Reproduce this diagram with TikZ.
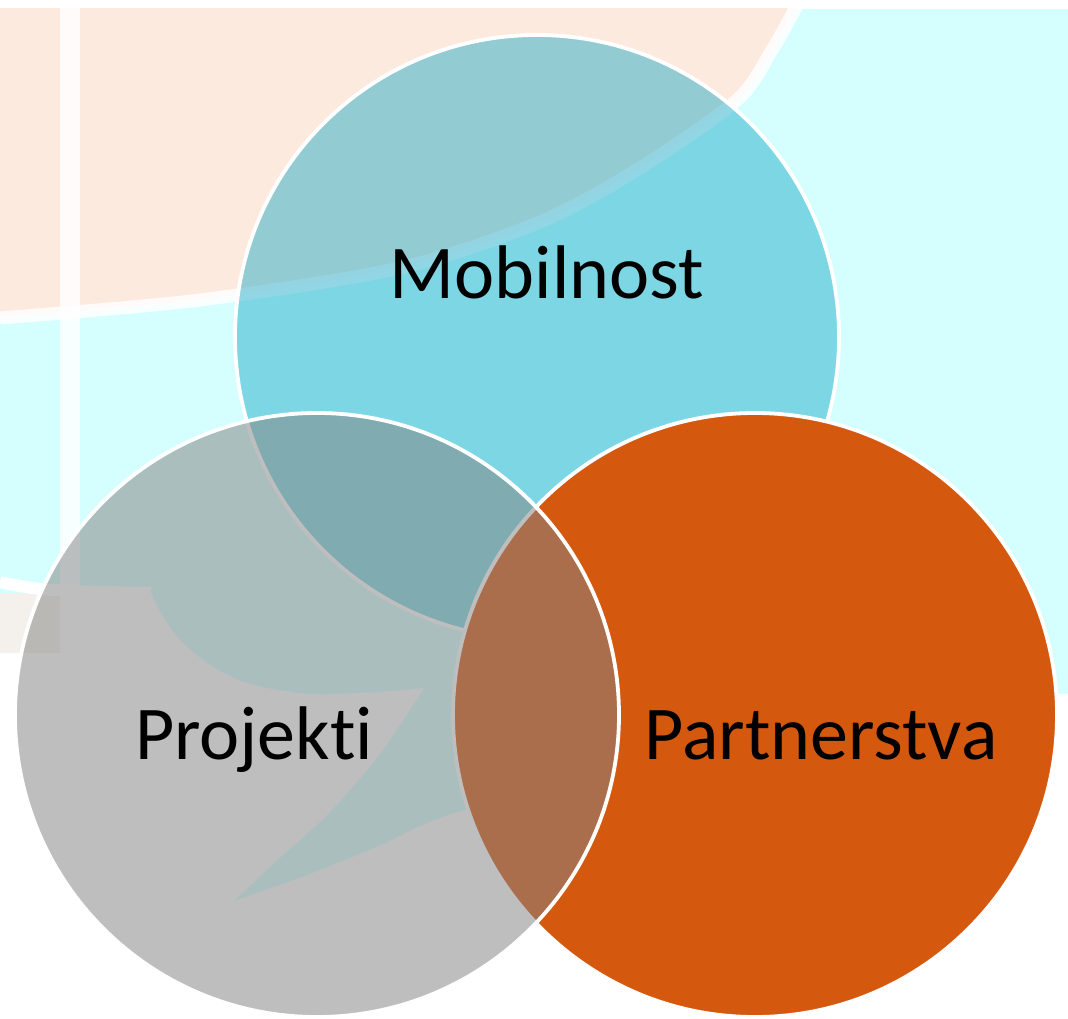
\documentclass[tikz,border=0pt]{standalone}
\usepackage{fontspec}
\setmainfont{Carlito}[Ligatures=NoCommon]
\definecolor{bgcyan}{RGB}{213,255,255}
\definecolor{bgpeach}{RGB}{253,234,223}
\definecolor{bgbeige}{RGB}{244,241,236}
\definecolor{mobc}{RGB}{20,166,197}
\definecolor{parc}{RGB}{213,88,15}
\definecolor{proc}{RGB}{132,132,132}
\begin{document}
\begin{tikzpicture}[x=1pt,y=-1pt,
  venn/.style={circle, minimum size=604pt, inner sep=0pt, draw=white, line width=3.8pt},
  lbl/.style={anchor=base, font=\fontsize{76}{90}\selectfont, text=black, inner sep=0pt}]
\useasboundingbox (0,0) rectangle (1068,1019);
\fill[white] (0,0) rectangle (1068,1019);
% background globe picture
\begin{scope}
  \clip (0,9) rectangle (1068,1019);
  \fill[bgcyan] (0,9) rectangle (1068,1019);
  \fill[bgpeach] plot[smooth] coordinates {(0,318) (200,300) (400,268) (540,222) (640,168) (737,100) (772,50) (800,0)} -- (0,0) -- cycle;
  \draw[white, opacity=0.85, line width=13pt] plot[smooth] coordinates {(0,318) (200,300) (400,268) (540,222) (640,168) (737,100) (772,50) (800,0)};
  \fill[white, opacity=0.85] (60,0) rectangle (80,593);
  \fill[white] (0,593) -- plot[smooth] coordinates {(151,593) (162,615) (180,640) (210,665) (250,684) (310,694) (379,692) (424,688)}
    -- plot[smooth] coordinates {(424,688) (379,755) (327,815) (275,862) (234,901)}
    -- plot[smooth] coordinates {(234,901) (310,874) (379,846) (461,811) (700,748) (1000,700) (1068,694)}
    -- (1068,1019) -- (0,1019) -- cycle;
  \fill[bgbeige] (0,593) rectangle (60,653);
  \draw[white, line width=12pt] plot[smooth] coordinates {(0,582) (40,589) (100,592) (151,593)};
\end{scope}
% circles
\node[venn, fill=mobc, fill opacity=0.45] (mob) at (537,337) {};
\node[venn, fill=parc] (par) at (755,715) {};
\node[venn, fill=proc, fill opacity=0.52] (pro) at (317,715) {};
% labels
\node[lbl] (tmob) at (547,298) {Mobilnost};
\node[lbl] (tpro) at (254,759) {Projekti};
\node[lbl] (tpar) at (821,759) {Partnerstva};
\end{tikzpicture}
\end{document}
